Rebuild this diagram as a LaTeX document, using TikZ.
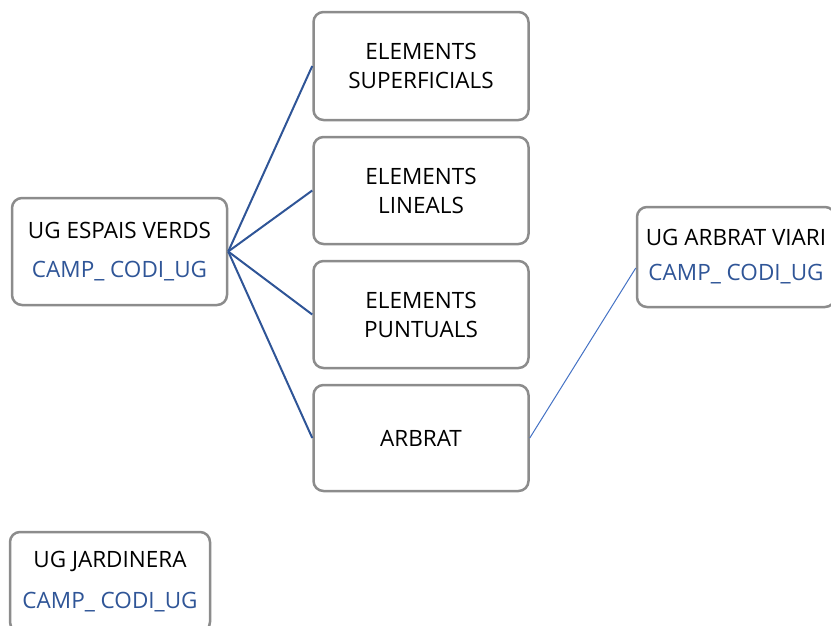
\documentclass[tikz,border=0pt]{standalone}
\usepackage{fontspec}
\setmainfont{Open Sans}

\definecolor{boxgray}{HTML}{8C8C8C}
\definecolor{linkblue}{HTML}{2F5597}
\definecolor{viariblue}{HTML}{4472C4}
\newcommand{\codiug}{\textcolor{linkblue}{CAMP\_ CODI\_UG}}

\begin{document}
\begin{tikzpicture}[x=1pt,y=-1pt,
  ugbox/.style={draw=boxgray, line width=2.5pt, rounded corners=10pt, align=center,
    minimum width=215pt, minimum height=107pt, inner sep=0pt,
    font=\fontsize{22.5}{29}\selectfont},
  link/.style={draw=linkblue, line width=2pt}]
\useasboundingbox (0,0) rectangle (831,625);
\node[ugbox] (esp) at (119.5,251.5) {UG ESPAIS VERDS\\[10pt]\codiug};
\node[ugbox, minimum height=108pt] (sup) at (421,66) {ELEMENTS\\SUPERFICIALS};
\node[ugbox] (lin) at (421,190.5) {ELEMENTS\\LINEALS};
\node[ugbox] (pun) at (421,314.5) {ELEMENTS\\PUNTUALS};
\node[ugbox, minimum height=106pt] (arb) at (421,438) {ARBRAT};
\node[ugbox, minimum width=198pt, minimum height=100pt] (viari) at (736,257) {UG ARBRAT VIARI\\[6pt]\codiug};
\node[ugbox, minimum width=200pt, minimum height=100pt] (jard) at (110,582) {UG JARDINERA\\[12pt]\codiug};
\draw[link] (esp.east) -- (sup.west);
\draw[link] (esp.east) -- (lin.west);
\draw[link] (esp.east) -- (pun.west);
\draw[link] (esp.east) -- (arb.west);
\draw[draw=viariblue, line width=1pt] (arb.east) -- ([yshift=-11pt]viari.west);
\end{tikzpicture}
\end{document}
